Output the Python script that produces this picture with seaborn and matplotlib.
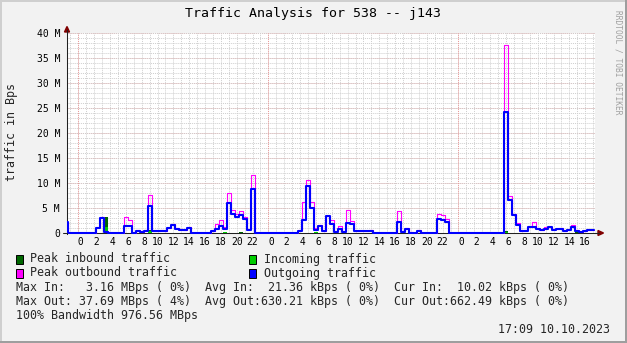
import numpy as np
import pandas as pd
import matplotlib
matplotlib.use("Agg")
import matplotlib.pyplot as plt
import seaborn as sns
from matplotlib.lines import Line2D
from matplotlib.patches import Polygon, Rectangle

# ---------------- data ----------------
first_sample_h = -1.745   # start of first 30-min sample (hours from first midnight)
sample_h = 0.5
last_time_h = 65.08

out_M = [2.2, 0, 0, 0, 0, 0, 0, 0, 1.0, 3.0,
         0.2, 0, 0, 0, 0, 1.4, 1.4, 0.1, 0.5, 0.2,
         0.5, 5.4, 0.4, 0.4, 0.4, 0.4, 1.0, 1.6, 0.9, 0.7,
         0.6, 1.1, 0, 0, 0, 0, 0.1, 0.4, 0.8, 1.4,
         0.9, 6.0, 3.9, 3.3, 3.6, 2.9, 0.6, 8.9, 0, 0,
         0, 0, 0, 0, 0, 0, 0, 0, 0, 0.5,
         2.7, 9.4, 5.0, 0.6, 1.4, 0.4, 3.4, 1.9, 0.3, 0.9,
         0.3, 2.1, 1.9, 0.4, 0.4, 0.4, 0.4, 0.4, 0, 0,
         0, 0, 0, 0, 2.3, 0.3, 0.9, 0.1, 0, 0.4,
         0, 0, 0, 0, 2.9, 2.7, 2.3, 0, 0, 0,
         0, 0, 0, 0, 0, 0, 0, 0, 0, 0,
         0, 24.3, 6.6, 3.6, 1.6, 0.5, 0.5, 1.3, 1.3, 0.9,
         0.6, 0.9, 1.2, 0.7, 0.8, 0.8, 0.4, 0.6, 1.3, 0.5,
         0.2, 0.5, 0.7, 0.66]

peak_out_M = [2.3, 0, 0, 0, 0, 0, 0, 0, 1.2, 3.3,
              0.4, 0, 0, 0, 0, 3.3, 2.7, 0.1, 0.6, 0.3,
              0.6, 7.6, 0.4, 0.4, 0.6, 0.4, 1.1, 1.8, 1.0, 0.8,
              0.6, 1.3, 0, 0, 0, 0, 0.1, 0.5, 1.8, 2.7,
              1.2, 8.1, 4.7, 3.9, 4.5, 3.3, 0.9, 11.7, 0, 0,
              0, 0, 0, 0, 0, 0, 0, 0, 0, 0.6,
              6.3, 10.6, 6.3, 1.0, 1.6, 0.5, 3.5, 2.6, 0.5, 1.4,
              0.4, 4.7, 2.5, 0.4, 0.4, 0.4, 0.4, 0.7, 0, 0,
              0, 0, 0, 0, 4.4, 0.5, 1.1, 0.2, 0, 0.7,
              0, 0, 0, 0, 3.8, 3.6, 2.9, 0, 0, 0,
              0, 0, 0, 0, 0, 0, 0, 0, 0, 0,
              0, 37.69, 7.4, 3.9, 2.0, 0.5, 0.6, 1.4, 2.3, 1.0,
              0.7, 1.2, 1.3, 0.9, 0.9, 1.0, 0.5, 0.8, 1.6, 0.6,
              0.3, 0.5, 0.7, 0.7]

in_M = [0, 0, 0, 0, 0, 0, 0, 0, 0, 0,
        1.3, 0, 0, 0, 0, 0, 0, 0, 0, 0,
        0, 0.4, 0, 0, 0, 0, 0, 0, 0, 0,
        0, 0, 0, 0, 0, 0, 0, 0, 0, 0,
        0.2, 0, 0, 0, 0, 0, 0, 0, 0, 0,
        0, 0, 0, 0, 0, 0, 0, 0, 0, 0,
        0, 0, 0, 0.2, 0, 0, 0, 0, 0, 0,
        0, 0, 0, 0, 0, 0, 0, 0, 0, 0,
        0, 0, 0, 0, 0, 0, 0, 0, 0, 0,
        0, 0, 0, 0, 0, 0, 0, 0, 0, 0,
        0, 0, 0, 0, 0, 0, 0, 0, 0, 0,
        0, 0.3, 0, 0, 0, 0, 0, 0, 0, 0,
        0, 0, 0, 0, 0, 0, 0, 0, 0, 0.1,
        0, 0, 0, 0.01]

peak_in_M = [0, 0, 0, 0, 0, 0, 0, 0, 0, 0,
             3.16, 0, 0, 0, 0, 0, 0, 0, 0, 0,
             0, 0.6, 0, 0, 0, 0, 0, 0, 0, 0,
             0, 0, 0, 0, 0, 0, 0, 0, 0, 0.1,
             0.3, 0.1, 0.1, 0.1, 0.2, 0.1, 0.1, 0, 0, 0,
             0, 0, 0, 0, 0, 0, 0, 0, 0, 0,
             0, 0, 0, 0.3, 0, 0, 0, 0, 0, 0,
             0, 0, 0, 0, 0, 0, 0, 0, 0, 0,
             0, 0, 0, 0, 0, 0, 0, 0, 0, 0,
             0, 0, 0, 0, 0, 0, 0, 0, 0, 0,
             0, 0, 0, 0, 0, 0, 0, 0, 0, 0,
             0, 0.5, 0, 0, 0, 0, 0, 0, 0, 0,
             0, 0, 0, 0, 0, 0, 0, 0, 0, 0.2,
             0, 0, 0, 0.02]

y_ticks = [0, 5, 10, 15, 20, 25, 30, 35, 40]
y_tick_labels = ["0", "5 M", "10 M", "15 M", "20 M", "25 M", "30 M", "35 M", "40 M"]
x_tick_hours = [0, 2, 4, 6, 8, 10, 12, 14, 16, 18, 20, 22,
                24, 26, 28, 30, 32, 34, 36, 38, 40, 42, 44, 46,
                48, 50, 52, 54, 56, 58, 60, 62, 64]
x_tick_labels = [" 0", " 2", " 4", " 6", " 8", "10", "12", "14", "16", "18", "20", "22",
                 " 0", " 2", " 4", " 6", " 8", "10", "12", "14", "16", "18", "20", "22",
                 " 0", " 2", " 4", " 6", " 8", "10", "12", "14", "16"]
midnights = [0, 24, 48]

title = "Traffic Analysis for 538 -- j143"
y_label = "traffic in Bps"
legend_items = [("Peak inbound traffic", "#006600"), ("Incoming traffic", "#00cc00"),
                ("Peak outbound traffic", "#ff00ff"), ("Outgoing traffic", "#0000ff")]
stats_lines = ["Max In:   3.16 MBps ( 0%)  Avg In:  21.36 kBps ( 0%)  Cur In:  10.02 kBps ( 0%)",
               "Max Out: 37.69 MBps ( 4%)  Avg Out:630.21 kBps ( 0%)  Cur Out:662.49 kBps ( 0%)",
               "100% Bandwidth 976.56 MBps"]
stamp = "17:09 10.10.2023"
watermark = "RRDTOOL / TOBI OETIKER"

# ---------------- build frame ----------------
n = len(out_M)
t = first_sample_h + sample_h * np.arange(n)
t_ext = np.append(t, last_time_h)
def ext(v):
    return np.append(np.array(v, dtype=float), v[-1])
df = pd.DataFrame({"t": t_ext, "out": ext(out_M), "peak_out": ext(peak_out_M),
                   "inb": ext(in_M), "peak_in": ext(peak_in_M)})

# ---------------- figure ----------------
sns.set_theme(style="white")
plt.rcParams["font.family"] = ["DejaVu Sans Mono"]

W, H = 627, 343
fig = plt.figure(figsize=(W / 100, H / 100), dpi=100, facecolor="#f2f2f2")
def fx(px): return px / W
def fy(py): return 1 - py / H

ax = fig.add_axes([fx(67), fy(234), fx(595) - fx(67), fy(33) - fy(234)])
ax.set_facecolor("white")

# grid
ax.xaxis.remove_overlapping_locs = False
ax.yaxis.remove_overlapping_locs = False
ax.set_xticks(np.arange(-1, 66), minor=True)
ax.set_yticks(np.arange(0, 41), minor=True)
ax.set_xticks(x_tick_hours)
ax.set_xticklabels(x_tick_labels)
ax.set_yticks(y_ticks)
ax.set_yticklabels(y_tick_labels)
ax.grid(which="minor", color="#cfcfcf", linestyle=(0, (1, 1)), linewidth=0.7, zorder=0)
ax.grid(which="major", axis="x", visible=False)
ax.grid(which="major", axis="y", color="#ec9a9a", linestyle=(0, (1, 1)), linewidth=0.7)
for m in midnights:
    ax.axvline(m, color="#ec9a9a", linestyle=(0, (1, 1)), linewidth=0.7, zorder=1)
ax.set_axisbelow(True)

# data
ax.fill_between(df["t"], 0, df["peak_in"], step="post", color="#006600", lw=0, zorder=3)
ax.fill_between(df["t"], 0, df["inb"], step="post", color="#00cc00", lw=0, zorder=3.1)
sns.lineplot(data=df, x="t", y="peak_out", drawstyle="steps-post", color="#ff00ff",
             lw=0.8, ax=ax, estimator=None, zorder=3.2)
sns.lineplot(data=df, x="t", y="out", drawstyle="steps-post", color="#0000ff",
             lw=1.5, ax=ax, estimator=None, zorder=3.3)

ax.set_xlim(-1.43, 65.24)
ax.set_ylim(-0.2, 40)
ax.set_xlabel("")
ax.set_ylabel("")

for s in ["top", "right"]:
    ax.spines[s].set_visible(False)
ax.spines["bottom"].set_position(("data", 0))
for s in ["left", "bottom"]:
    ax.spines[s].set_color("#212121")
    ax.spines[s].set_linewidth(0.75)
    ax.spines[s].set_zorder(2.5)

ax.tick_params(which="both", length=0)
ax.tick_params(axis="y", pad=5, labelsize=7, labelcolor="black")
ax.tick_params(axis="x", pad=3, labelsize=7, labelcolor="black")

# axis extensions and arrows
fig.add_artist(Line2D([fx(67), fx(67)], [fy(33), fy(30)], color="#212121", lw=0.75))
fig.add_artist(Line2D([fx(63), fx(67)], [fy(233), fy(233)], color="#212121", lw=0.75))
fig.add_artist(Line2D([fx(595), fx(599)], [fy(233), fy(233)], color="#212121", lw=0.75))
fig.add_artist(Polygon([[fx(64.5), fy(32)], [fx(69.5), fy(32)], [fx(67), fy(26.5)]],
                       closed=True, color="#800000", transform=fig.transFigure))
fig.add_artist(Polygon([[fx(598), fy(230.5)], [fx(598), fy(235.5)], [fx(603.5), fy(233)]],
                       closed=True, color="#800000", transform=fig.transFigure))

# frame shading
fig.add_artist(Rectangle((0, fy(2)), 1, fy(0) - fy(2), color="#cfcfcf", transform=fig.transFigure, lw=0))
fig.add_artist(Rectangle((0, 0), fx(2), 1, color="#cfcfcf", transform=fig.transFigure, lw=0))
fig.add_artist(Rectangle((0, 0), 1, fy(341), color="#9e9e9e", transform=fig.transFigure, lw=0))
fig.add_artist(Rectangle((fx(625), 0), fx(2), 1, color="#9e9e9e", transform=fig.transFigure, lw=0))

# texts
fig.text(fx(313), fy(13.5), title, ha="center", va="center", fontsize=9.5, color="black")
fig.text(fx(12), fy(132), y_label, ha="center", va="center", rotation=90, fontsize=8.4)
fig.text(fx(618), fy(62), watermark, ha="center", va="center", rotation=270,
         fontsize=5.7, color="#a0a0a0")

legend_pos = [(16, 259), (249, 259), (16, 273), (249, 273)]
for (lab, col), (lx, ly) in zip(legend_items, legend_pos):
    fig.add_artist(Rectangle((fx(lx), fy(ly + 4.5)), fx(7), fy(0) - fy(9),
                             facecolor=col, edgecolor="black", lw=0.7,
                             transform=fig.transFigure))
    fig.text(fx(lx + 14.5), fy(ly), lab, ha="left", va="center", fontsize=8.4)

for i, line in enumerate(stats_lines):
    fig.text(fx(16), fy(287.5 + 14.2 * i), line, ha="left", va="center", fontsize=8.4)
fig.text(fx(610), fy(329.5), stamp, ha="right", va="center", fontsize=8.4)

fig.savefig("out.png", dpi=100, facecolor=fig.get_facecolor())
